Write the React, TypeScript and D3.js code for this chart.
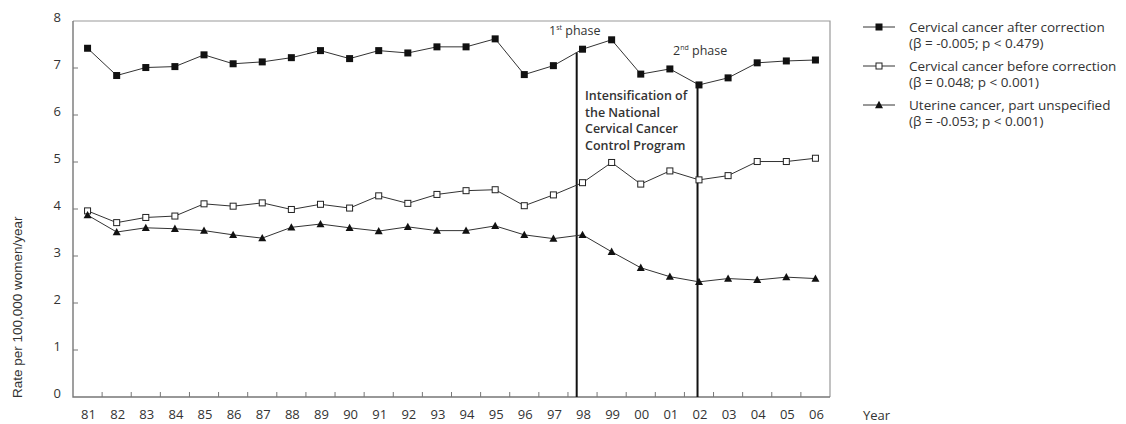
import React from "react";
import * as d3 from "d3";

const years = ["81","82","83","84","85","86","87","88","89","90","91","92","93","94","95","96","97","98","99","00","01","02","03","04","05","06"];
const afterCorrection = [7.42,6.84,7.01,7.03,7.28,7.09,7.13,7.22,7.37,7.20,7.37,7.32,7.45,7.45,7.62,6.86,7.05,7.40,7.60,6.87,6.98,6.64,6.79,7.11,7.15,7.17];
const beforeCorrection = [3.96,3.71,3.82,3.85,4.11,4.06,4.13,3.99,4.10,4.02,4.28,4.12,4.31,4.39,4.41,4.07,4.30,4.56,4.99,4.53,4.81,4.62,4.71,5.01,5.01,5.08];
const uterine = [3.87,3.51,3.60,3.58,3.54,3.45,3.38,3.61,3.68,3.60,3.53,3.62,3.54,3.54,3.64,3.45,3.37,3.45,3.09,2.75,2.56,2.45,2.52,2.49,2.55,2.52];
const yTicks = [0,1,2,3,4,5,6,7,8];
const phaseYears = [16.8, 20.95];
const legendLabels = [
  ["Cervical cancer after correction", "(β = -0.005; p < 0.479)"],
  ["Cervical cancer before correction", "(β = 0.048; p < 0.001)"],
  ["Uterine cancer, part unspecified", "(β = -0.053; p < 0.001)"],
];
const noteLines = ["Intensification of", "the National", "Cervical Cancer", "Control Program"];

const FONT = "'Open Sans', Lato, sans-serif";
const TXT = "#333";

function Marker({ kind, x, y, s = 7 }: { kind: string; x: number; y: number; s?: number }) {
  if (kind === "filled") return <rect x={x - s / 2} y={y - s / 2} width={s} height={s} fill="#111" />;
  if (kind === "open") return <rect x={x - s / 2 + 0.5} y={y - s / 2 + 0.5} width={s - 1} height={s - 1} fill="#fff" stroke="#222" strokeWidth={1} />;
  const h = s * 0.9;
  return <path d={`M${x},${y - h / 2 - 1}L${x + s / 2 + 0.5},${y + h / 2}L${x - s / 2 - 0.5},${y + h / 2}Z`} fill="#111" />;
}

export default function App() {
  const left = 73, right = 830, top = 21, bottom = 397;
  const x = d3.scaleLinear().domain([-0.5, years.length - 0.5]).range([left, right]);
  const y = d3.scaleLinear().domain([0, 8]).range([bottom, top]);
  const line = d3.line<number>().x((_, i) => x(i)).y((d) => y(d));
  const series = [
    { data: afterCorrection, kind: "filled" },
    { data: beforeCorrection, kind: "open" },
    { data: uterine, kind: "tri" },
  ];
  const interp = (arr: number[], p: number) => {
    const i = Math.floor(p);
    const f = p - i;
    return arr[i] + (arr[Math.min(i + 1, arr.length - 1)] - arr[i]) * f;
  };
  const xTicks = d3.range(0, years.length - 1).map((i) => i + 0.5);

  return (
    <svg width={1126} height={424} style={{ position: "absolute", left: 0, top: 0, background: "#fff" }} fontFamily={FONT}>
      {/* frame */}
      <path d={`M${left},${top}H${right}V${bottom}`} fill="none" stroke="#999" strokeWidth={1.2} />
      <path d={`M${left},${top}V${bottom}H${right}`} fill="none" stroke="#777" strokeWidth={1.4} />
      {/* y ticks */}
      {yTicks.map((t) => (
        <g key={t}>
          {t > 0 && t < 8 && <line x1={left} x2={left + 5} y1={y(t)} y2={y(t)} stroke="#777" strokeWidth={1} />}
          <text x={61} y={y(t) - 4} dy="0.35em" textAnchor="end" fontSize={13} fill={TXT}>{t}</text>
        </g>
      ))}
      {/* x ticks */}
      {xTicks.map((t) => (
        <line key={t} x1={x(t)} x2={x(t)} y1={bottom} y2={bottom - 5} stroke="#777" strokeWidth={1} />
      ))}
      {years.map((yr, i) => (
        <text key={yr} x={x(i) + 1} y={414} dy="0.35em" textAnchor="middle" fontSize={13} fill={TXT}>{yr}</text>
      ))}
      <text x={863} y={415} dy="0.35em" fontSize={13} fill={TXT}>Year</text>
      <text transform={`translate(22,398) rotate(-90)`} fontSize={13.5} fill={TXT} fontFamily="'Liberation Sans', Arial, sans-serif">Rate per 100,000 women/year</text>

      {/* phase lines */}
      {phaseYears.map((p, i) => (
        <line key={i} x1={x(p)} x2={x(p)} y1={bottom} y2={y(interp(afterCorrection, p))} stroke="#111" strokeWidth={2} />
      ))}
      <text x={549} y={35} fontSize={12.5} fill={TXT}>1<tspan fontSize={7} dy={-5}>st</tspan><tspan dy={5}> phase</tspan></text>
      <text x={673} y={55} fontSize={12.5} fill={TXT}>2<tspan fontSize={7} dy={-5}>nd</tspan><tspan dy={5}> phase</tspan></text>
      {noteLines.map((s, i) => (
        <text key={s} x={585} y={100 + i * 16.5} fontSize={12.5} fontWeight={600} fill={TXT}>{s}</text>
      ))}

      {/* series */}
      {series.map((s, si) => (
        <g key={si}>
          <path d={line(s.data) || ""} fill="none" stroke="#333" strokeWidth={1} />
          {s.data.map((v, i) => (
            <Marker key={i} kind={s.kind} x={x(i)} y={y(v)} />
          ))}
        </g>
      ))}

      {/* legend */}
      {legendLabels.map((lab, i) => {
        const ly = 27 + i * 39;
        return (
          <g key={i}>
            <line x1={863} x2={895} y1={ly} y2={ly} stroke="#333" strokeWidth={1} />
            <Marker kind={series[i].kind} x={879} y={ly} s={7} />
            <text x={909} y={ly} dy="0.35em" fontSize={13.5} fill={TXT}>{lab[0]}</text>
            <text x={909} y={ly + 16} dy="0.35em" fontSize={13.5} fill={TXT}>{lab[1]}</text>
          </g>
        );
      })}
    </svg>
  );
}
